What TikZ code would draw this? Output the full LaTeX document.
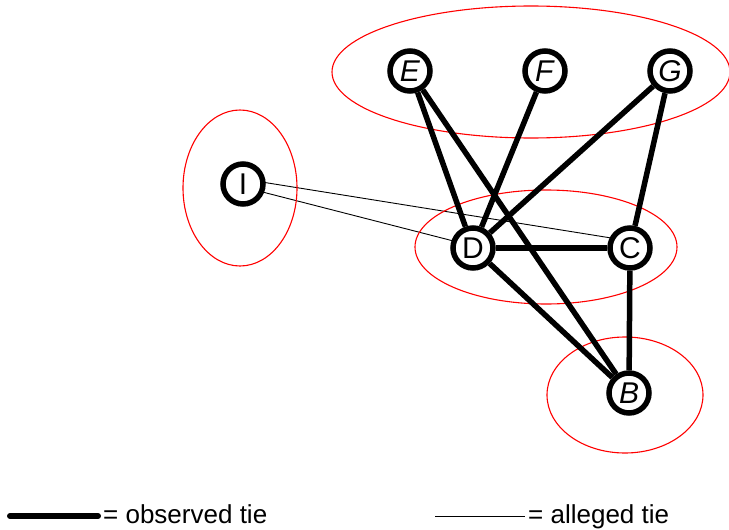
\documentclass[tikz,border=0pt]{standalone}
\usepackage{fontspec}
\setmainfont{Liberation Sans}
\usetikzlibrary{calc}
\pgfdeclarelayer{back}
\pgfsetlayers{back,main}
\begin{document}
\begin{tikzpicture}[x=1pt,y=-1pt,
  actor/.style={circle,draw,line width=5.5pt,minimum size=40pt,inner sep=0pt,
    fill=white,font=\fontsize{30}{30}\selectfont},
  observed/.style={line width=5.5pt},
  alleged/.style={line width=0.9pt},
  group/.style={draw=red,line width=1.1pt},
  legendtext/.style={anchor=base west,inner sep=0pt,font=\fontsize{26}{26}\selectfont}]
\useasboundingbox (0,0) rectangle (729,530);

% groups
\draw[group] (531,72) ellipse [x radius=199, y radius=66];
\draw[group] (240,188) ellipse [x radius=57, y radius=78];
\draw[group] (546,247) ellipse [x radius=131, y radius=57];
\draw[group] (625,395) ellipse [x radius=78, y radius=58];

% actors
\node[actor] (E) at (410,71) {\textit{E}};
\node[actor] (F) at (545,71) {\textit{F}};
\node[actor] (G) at (670,71) {\textit{G}};
\node[actor] (I) at (243,184) {I};
\node[actor] (D) at (473,248) {D};
\node[actor] (C) at (630,248) {C};
\node[actor] (B) at (629,393) {\textit{B}};

% ties
\begin{pgfonlayer}{back}
\draw[alleged] ($(I.center)+(0,-5)$) -- ($(C.center)+(0,-7)$);
\draw[alleged] ($(I.center)+(0,3)$) -- ($(D.center)+(0,-2)$);
\end{pgfonlayer}
\draw[observed] (E) -- (D);
\draw[observed] (E) -- (B);
\draw[observed] (F) -- (D);
\draw[observed] (G) -- (D);
\draw[observed] (G) -- (C);
\draw[observed] (D) -- (C);
\draw[observed] (D) -- (B);
\draw[observed] (C) -- (B);

% legend
\coordinate (o1) at (10,516);
\coordinate (o2) at (98,516);
\draw[line width=6pt,line cap=round] (o1) -- (o2);
\node[legendtext] (ot) at (103,523) {= observed tie};
\coordinate (a1) at (435,516);
\coordinate (a2) at (525,516);
\draw[alleged] (a1) -- (a2);
\node[legendtext] (at) at (528,523) {= alleged tie};
\end{tikzpicture}
\end{document}
